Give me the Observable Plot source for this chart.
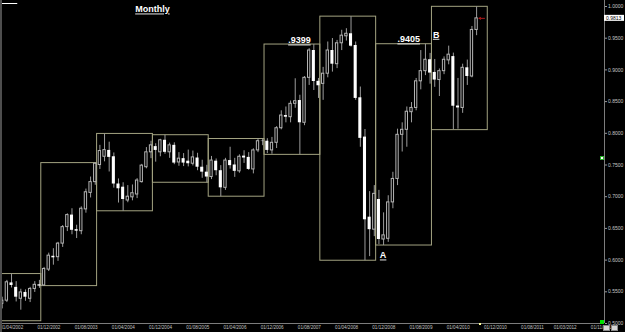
<!DOCTYPE html>
<html><head><meta charset="utf-8">
<script src="https://cdn.jsdelivr.net/npm/d3@7"></script>
<script src="https://cdn.jsdelivr.net/npm/@observablehq/plot@0.6"></script>
<style>
html,body{margin:0;padding:0;background:#000;overflow:hidden}
#wrap{position:relative;width:625px;height:332px;background:#000}
.ov{position:absolute;box-sizing:border-box}
</style></head><body><div id="wrap"></div>
<script>
// Monthly bars, index 0 = April 2002 ... 102 = October 2010
const open = [.531,.536,.564,.557,.539,.549,.539,.5545,.561,
  .560,.585,.606,.6046,.626,.652,.671,.648,.6456,.680,.706,.723,
  .750,.763,.773,.763,.720,.715,.694,.699,.7035,.723,.7465,.770,
  .779,.770,.789,.770,.781,.754,.760,.756,.752,.761,.7465,.7387,
  .731,.756,.741,.714,.757,.750,.740,.764,.762,.743,.773,.7875,
  .7875,.773,.785,.808,.828,.8254,.8465,.8517,.8166,.8875,.9306,.882,
  .878,.894,.9306,.909,.942,.953,.957,.9385,.856,.794,.6677,.648,
  .6956,.6325,.6336,.691,.728,.7976,.8055,.8333,.840,.882,.898,.916,
  .896,.884,.898,.915,.921,.843,.840,.9033,.8896,.963];
const high = [.5415,.568,.578,.566,.554,.553,.557,.566,.568,
  .5885,.611,.618,.628,.6545,.673,.681,.655,.684,.712,.731,.753,
  .781,.799,.786,.769,.728,.722,.7175,.7185,.7285,.751,.7775,.7875,
  .7835,.7905,.797,.7845,.785,.7695,.768,.7735,.772,.7685,.7575,.7495,
  .7635,.7595,.749,.7605,.778,.7605,.766,.7725,.7695,.7755,.7915,.791,
  .7915,.7935,.8105,.8355,.8415,.851,.886,.860,.8895,.9335,.940,.8865,
  .904,.944,.9495,.9465,.9625,.965,.984,.944,.873,.806,.708,.7175,
  .710,.6745,.7015,.7385,.8065,.8165,.8415,.8485,.8865,.9305,.9405,.926,
  .9165,.9015,.9205,.9375,.9265,.8865,.909,.9155,.9685,.9995];
const low = [.523,.533,.556,.534,.521,.535,.533,.549,.5555,
  .559,.582,.592,.598,.620,.645,.640,.634,.640,.674,.698,.718,
  .743,.755,.739,.7135,.690,.677,.6905,.6935,.697,.7215,.744,.760,
  .7545,.763,.767,.7605,.7505,.748,.7475,.747,.7485,.741,.729,.722,
  .727,.733,.700,.710,.7435,.7305,.737,.7525,.7415,.736,.7695,.7805,
  .768,.767,.776,.8055,.8165,.8165,.8395,.766,.812,.8755,.8675,.855,
  .852,.8875,.8965,.902,.9305,.9455,.936,.852,.778,.599,.6055,.637,
  .6245,.623,.628,.681,.7175,.7705,.778,.8165,.8355,.8685,.891,.8775,
  .8725,.858,.8925,.908,.8055,.8065,.8315,.8755,.8875,.954];
const close = [.536,.565,.560,.5415,.549,.5415,.5545,.561,.559,
  .586,.607,.6036,.626,.652,.671,.647,.6456,.681,.707,.723,.752,
  .772,.7735,.762,.720,.7125,.6956,.700,.7055,.7255,.749,.770,.781,
  .773,.789,.770,.781,.753,.760,.753,.752,.762,.7465,.7387,.731,
  .757,.741,.714,.757,.749,.740,.763,.761,.743,.773,.7875,.787,
  .773,.785,.808,.828,.8254,.8465,.8506,.8166,.8875,.9306,.8817,.875,
  .894,.9306,.909,.942,.954,.957,.9374,.855,.792,.6636,.648,.7045,
  .6325,.639,.691,.728,.7976,.8055,.834,.840,.882,.898,.916,.895,
  .884,.898,.916,.924,.8427,.840,.9033,.8896,.963,.9813];

// Yearly range boxes
const boxYears = [2002,2003,2004,2005,2006,2007,2008,2009,2010];
const boxHigh  = [.578,.753,.799,.797,.791,.940,.984,.9405,.9995];
const boxLow   = [.5036,.559,.677,.722,.700,.766,.599,.623,.805];

// Time axis labels (month index from April 2002)
const tickIdx    = [0,8,16,24,32,40,48,56,64,72,80,88,96,104,112,119,127];
const tickLabels = ["01/04/2002","01/12/2002","01/08/2003","01/04/2004","01/12/2004","01/08/2005",
  "01/04/2006","01/12/2006","01/08/2007","01/04/2008","01/12/2008","01/08/2009","01/04/2010",
  "01/12/2010","01/08/2011","01/03/2012","01/11/2012"];
const priceTicks = [0.50,0.55,0.60,0.65,0.70,0.75,0.80,0.85,0.90,0.95,1.00];

// Annotations
const annText  = ["Monthly", ".9399", ".9405", "B", "A"];
const annIdx   = [32.3, 63.9, 87.4, 93.3, 81.9];
const annPrice = [0.9951, 0.9462, 0.9478, 0.9552, 0.6071];

const candles = open.map((o,i)=>({i, o, h:high[i], l:low[i], c:close[i], up: close[i] >= o}));
const boxes = boxYears.map((y,k)=>({s:(y-2002)*12-3.6, e:(y-2002)*12+8.4, hi:boxHigh[k], lo:boxLow[k]}));
const anns = annText.map((t,k)=>({t, x:annIdx[k], y:annPrice[k]}));
const last = candles[candles.length-1];
const xDomain = [-0.37, 129.5];

const chart = Plot.plot({
  width: 625, height: 332,
  marginLeft: 0, marginRight: 21, marginTop: 6, marginBottom: 9,
  style: {background: "#000", color: "#c8c8c8", fontFamily: "'Liberation Sans', Arial, sans-serif"},
  x: {type: "linear", domain: xDomain, axis: null},
  y: {domain: [0.5, 1.0], axis: null},
  marks: [
    Plot.rect(boxes, {x1: "s", x2: "e", y1: "lo", y2: "hi", fill: "none", stroke: "#a3a381", strokeWidth: 1}),
    Plot.ruleX(candles, {x: "i", y1: "l", y2: "h", stroke: "#9c9c9c", strokeWidth: 1}),
    Plot.rect(candles.filter(d=>d.up), {x1: d=>d.i-0.25, x2: d=>d.i+0.25, y1: "o", y2: "c", fill: "#000", stroke: "#b4b4b4", strokeWidth: 1}),
    Plot.rect(candles.filter(d=>!d.up), {x1: d=>d.i-0.33, x2: d=>d.i+0.33, y1: "o", y2: "c", fill: "#fff"}),
    Plot.ruleY([0.5], {stroke: "#7c7c7c"}),
    Plot.ruleX([xDomain[1]], {y1: 0.5, y2: 1.012, stroke: "#7c7c7c"}),
    Plot.axisY({anchor: "right", ticks: priceTicks, tickFormat: d3.format(".4f"), tickSize: 2, tickPadding: 1.5, fontSize: 5, stroke: "#9a9a9a", fill: "#c8c8c8"}),
    Plot.text(tickIdx, {x: d=>d, text: (d,i)=>tickLabels[i], frameAnchor: "bottom", dy: 5, dx: -2, textAnchor: "start", fontSize: 4.6, fill: "#c0c0c0"}),
    Plot.text(anns, {x: "x", y: "y", text: "t", fill: "#fff", fontWeight: "bold", fontSize: 9}),
    Plot.arrow([last], {x1: d=>d.i+1.7, x2: d=>d.i+0.5, y1: "c", y2: "c", stroke: "#b01818", strokeWidth: 1, headLength: 4})
  ]
});

const wrap = document.getElementById("wrap");
wrap.appendChild(chart);

// underline the annotation labels
const svg = d3.select(chart);
Array.from(chart.querySelectorAll("text")).filter(t => annText.includes(t.textContent)).forEach(t=>{
  t.setAttribute("text-decoration", "underline");
  const b = t.getBBox();
  const ly = Math.round(b.y + b.height*0.86) + 0.5;
  svg.append("line").attr("x1", b.x).attr("x2", b.x + b.width)
    .attr("y1", ly).attr("y2", ly)
    .attr("stroke", "#fff").attr("stroke-width", 1);
});

// Current price tag on the axis
const ys = chart.scale("y"), xs = chart.scale("x");
const yv = ys.apply(last.c), xv = xs.apply(xDomain[1]);
svg.append("rect").attr("x", xv).attr("y", yv-3).attr("width", 20).attr("height", 6).attr("fill", "#fff");
svg.append("text").attr("x", xv+2).attr("y", yv+1.8).attr("text-anchor", "start").attr("font-size", 5).attr("fill", "#000").text(d3.format(".4f")(last.c));

function ov(css){const d=document.createElement("div");d.className="ov";d.style.cssText=css;wrap.appendChild(d);}
ov("left:0;top:0;width:2px;height:332px;background:#4e4e4e");
ov("left:600px;top:320px;width:4px;height:4px;background:#00e000");
ov("left:600px;top:156px;width:4px;height:4px;background:#fff;border:1px solid #2ab02a");
ov("left:479px;top:323px;width:2px;height:2px;background:#ffff99");
ov("left:603px;top:325px;width:7px;height:6px;background:#d6d6d6;border:1px solid #888");
ov("left:611px;top:325px;width:7px;height:6px;background:#d6d6d6;border:1px solid #888");
</script></body></html>
